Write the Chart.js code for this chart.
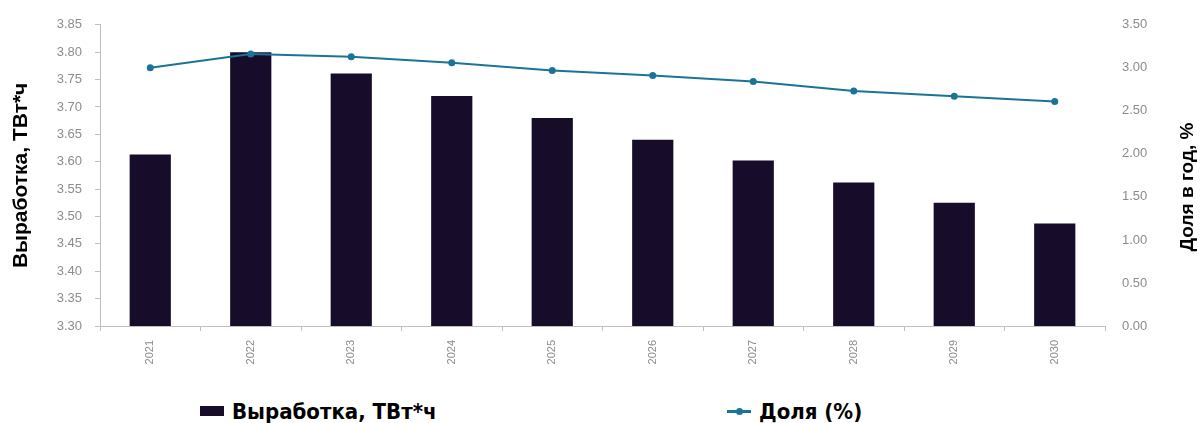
<!DOCTYPE html>
<html>
<head>
<meta charset="utf-8">
<script src="https://cdn.jsdelivr.net/npm/chart.js@4.4.1/dist/chart.umd.min.js"></script>
<style>
  body { margin: 0; background: #fff; width: 1200px; height: 423px; overflow: hidden; position: relative; }
  #wrap { position: absolute; left: 0; top: 0; width: 1200px; height: 390px; }
  .leg { position: absolute; top: 398px; height: 26px; display: flex; align-items: center;
         font: bold 22px "Liberation Sans Narrow", "DejaVu Sans Condensed", sans-serif; color: #000; white-space: nowrap; }
  .box { width: 24px; height: 10px; margin-right: 8px; }
  .ln { position: relative; width: 24px; height: 3px; margin-right: 8px; }
  .ln i { position: absolute; left: 9px; top: -2px; width: 7px; height: 7px; border-radius: 50%; }
</style>
</head>
<body>
<div id="wrap"><canvas id="energyChart" width="1200" height="390"></canvas></div>
<div class="leg" id="leg0" style="left:200px"></div>
<div class="leg" id="leg1" style="left:727px"></div>
<script>
const years = ["2021", "2022", "2023", "2024", "2025", "2026", "2027", "2028", "2029", "2030"];
const output = [3.613, 3.80, 3.761, 3.72, 3.68, 3.64, 3.602, 3.562, 3.525, 3.487]; // ТВт*ч
const share = [3.00, 3.16, 3.13, 3.06, 2.97, 2.91, 2.84, 2.73, 2.67, 2.61];        // %
const leftMin = 3.30, leftMax = 3.85, leftStep = 0.05;
const rightMin = 0, rightMax = 3.5, rightStep = 0.5;
const outputLabel = "Выработка, ТВт*ч";
const shareLabel = "Доля (%)";
const leftTitle = "Выработка, ТВт*ч";
const rightTitle = "Доля в год, %";

const barColor = "#170d2b";
const lineColor = "#1b7498";
const axisGray = "#bfbfbf";
const tickGray = "#8c8c8c";

// right axis title reads bottom-to-top, so draw it ourselves
const rightTitlePlugin = {
  id: "rightTitle",
  afterDraw(chart) {
    const c = chart.ctx;
    c.save();
    c.translate(1188, 187);
    c.rotate(-Math.PI / 2);
    c.textAlign = "center";
    c.textBaseline = "middle";
    c.fillStyle = "#000";
    c.font = "bold 19px 'Liberation Sans', Arial, sans-serif";
    c.fillText(rightTitle, 0, 0);
    c.restore();
  }
};

const ctx = document.getElementById('energyChart').getContext('2d');
const chart = new Chart(ctx, {
  type: 'bar',
  data: {
    labels: years,
    datasets: [
      {
        type: 'line',
        label: shareLabel,
        data: share,
        yAxisID: 'y1',
        borderColor: lineColor,
        backgroundColor: lineColor,
        borderWidth: 2,
        pointRadius: 2.5,
        pointBackgroundColor: lineColor,
        tension: 0,
        order: 0
      },
      {
        label: outputLabel,
        data: output,
        yAxisID: 'y',
        backgroundColor: barColor,
        barPercentage: 0.41,
        categoryPercentage: 1.0,
        order: 1
      }
    ]
  },
  options: {
    responsive: false,
    animation: false,
    layout: { padding: { top: 24, left: 0, right: 0, bottom: 0 } },
    plugins: {
      legend: { display: false },
      tooltip: { enabled: false }
    },
    scales: {
      x: {
        grid: { drawOnChartArea: false, drawTicks: true, tickLength: 5, color: axisGray },
        border: { display: true, color: axisGray },
        ticks: {
          color: tickGray,
          font: { family: "'Liberation Sans', Arial, sans-serif", size: 11 },
          minRotation: 90, maxRotation: 90, padding: 9
        },
        afterFit(scale) { scale.height = 64; }
      },
      y: {
        position: 'left',
        min: leftMin, max: leftMax,
        grid: { drawOnChartArea: false, drawTicks: true, tickLength: 5, color: axisGray },
        border: { display: true, color: axisGray },
        ticks: {
          stepSize: leftStep,
          color: tickGray,
          padding: 13,
          font: { family: "'Liberation Sans', Arial, sans-serif", size: 13 },
          callback: v => Number(v).toFixed(2)
        },
        title: {
          display: true,
          text: leftTitle,
          color: '#000',
          font: { family: "'Liberation Sans', Arial, sans-serif", size: 21, weight: 'bold' },
          padding: { top: 9, bottom: 0 }
        },
        afterFit(scale) { scale.width = 100; }
      },
      y1: {
        position: 'right',
        min: rightMin, max: rightMax,
        grid: { display: false, drawTicks: false },
        border: { display: false },
        ticks: {
          stepSize: rightStep,
          color: tickGray,
          padding: 17,
          font: { family: "'Liberation Sans', Arial, sans-serif", size: 13 },
          callback: v => Number(v).toFixed(2)
        },
        afterFit(scale) { scale.width = 95; }
      }
    }
  },
  plugins: [rightTitlePlugin]
});

// legend built from the datasets
const barDs = chart.data.datasets[1], lineDs = chart.data.datasets[0];
document.getElementById('leg0').innerHTML =
  '<span class="box" style="background:' + barDs.backgroundColor + '"></span>' + barDs.label;
document.getElementById('leg1').innerHTML =
  '<span class="ln" style="background:' + lineDs.borderColor + '"><i style="background:' + lineDs.borderColor + '"></i></span>' + lineDs.label;
</script>
</body>
</html>
